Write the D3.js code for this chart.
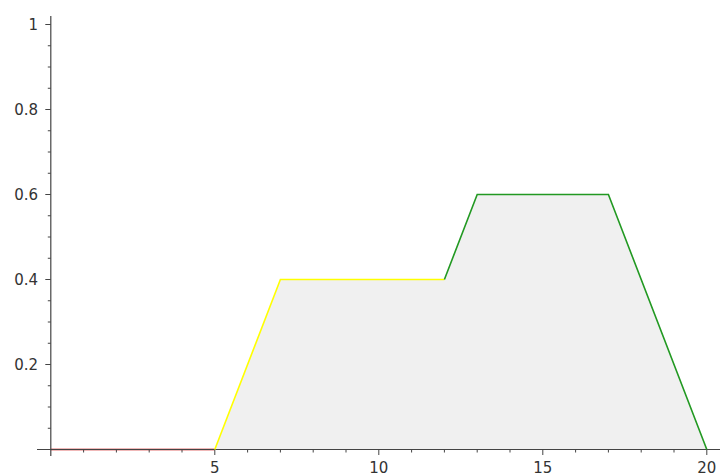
<!DOCTYPE html>
<head>
<meta charset="utf-8">
<title>Piecewise plot</title>
<style>
  body { margin: 0; background: #fff; }
  .tick text { font: 15px "DejaVu Sans", sans-serif; fill: #333; }
</style>
</head>
<body>
<div id="chartDiv"></div>
<script src="https://d3js.org/d3.v7.min.js"></script>
<script>

  // pieces of the curve
  var redX = [0, 5],            redY = [0, 0];
  var yellowX = [5, 7, 12],     yellowY = [0, 0.4, 0.4];
  var greenX = [12, 13, 17, 20], greenY = [0.4, 0.6, 0.6, 0];
  var xTicks = [5, 10, 15, 20];
  var yTicks = [0.2, 0.4, 0.6, 0.8, 1];

  var width = 720, height = 475;

  var svg = d3.select("#chartDiv").append("svg")
      .attr("width", width)
      .attr("height", height);

  var x = d3.scaleLinear().domain([0, 20]).range([50.8, 706.8]);
  var y = d3.scaleLinear().domain([0, 1]).range([449.5, 24.5]);

  function pts(xs, ys) { return xs.map(function(d, i) { return [d, ys[i]]; }); }

  var all = pts(redX, redY).concat(pts(yellowX, yellowY).slice(1), pts(greenX, greenY).slice(1));

  // filled area
  svg.append("path")
      .datum(all)
      .attr("fill", "#f0f0f0")
      .attr("d", d3.area().x(function(d) { return x(d[0]); }).y0(y(0)).y1(function(d) { return y(d[1]); }));

  var line = d3.line().x(function(d) { return x(d[0]); }).y(function(d) { return y(d[1]); });

  // red piece sits under the axis line
  svg.append("path").datum(pts(redX, redY))
      .attr("fill", "none").attr("stroke", "#eba0a0").attr("stroke-width", 2.6).attr("d", line);

  // axes
  var axisColor = "#444";
  var g = svg.append("g");

  g.append("line").attr("x1", 37).attr("x2", 720).attr("y1", y(0)).attr("y2", y(0))
      .attr("stroke", axisColor).attr("stroke-width", 1.2);
  g.append("line").attr("x1", x(0)).attr("x2", x(0)).attr("y1", 16).attr("y2", 456)
      .attr("stroke", axisColor).attr("stroke-width", 1.2);

  // ticks
  d3.range(1, 21).forEach(function(v) {
    var major = v % 5 === 0;
    g.append("line").attr("x1", x(v)).attr("x2", x(v))
        .attr("y1", y(0)).attr("y2", y(0) + (major ? 5.5 : 3))
        .attr("stroke", axisColor).attr("stroke-width", 1);
  });
  d3.range(1, 21).forEach(function(i) {
    var v = i * 0.05;
    var major = i % 4 === 0;
    g.append("line").attr("x1", x(0)).attr("x2", x(0) - (major ? 5.5 : 3))
        .attr("y1", y(v)).attr("y2", y(v))
        .attr("stroke", axisColor).attr("stroke-width", 1);
  });

  // tick labels
  svg.append("g").attr("class", "tick").selectAll("text")
      .data(xTicks).enter().append("text")
      .attr("x", function(d) { return x(d); })
      .attr("y", 472.5)
      .attr("text-anchor", "middle")
      .text(function(d) { return d; });

  svg.append("g").attr("class", "tick").selectAll("text")
      .data(yTicks).enter().append("text")
      .attr("x", 38)
      .attr("y", function(d) { return y(d) + 5.5; })
      .attr("text-anchor", "end")
      .text(function(d) { return d3.format("~g")(d); });

  svg.append("path").datum(pts(yellowX, yellowY))
      .attr("fill", "none").attr("stroke", "#ffff00").attr("stroke-width", 1.6).attr("d", line);
  svg.append("path").datum(pts(greenX, greenY))
      .attr("fill", "none").attr("stroke", "#229922").attr("stroke-width", 1.6).attr("d", line);

</script>
</body>
